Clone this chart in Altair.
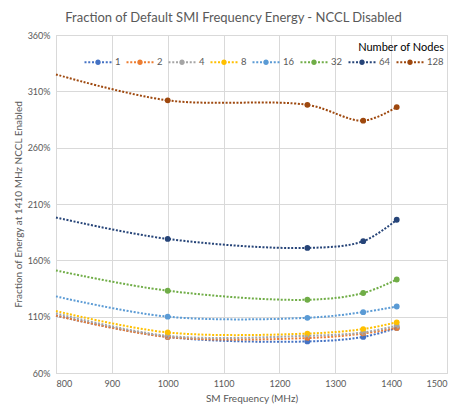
import altair as alt
import pandas as pd

freqs = [800, 1000, 1250, 1350, 1410]
nodes = ["1", "2", "4", "8", "16", "32", "64", "128"]
n1 = [1.11, 0.92, 0.88, 0.92, 1.00]
n2 = [1.11, 0.92, 0.91, 0.95, 1.00]
n4 = [1.13, 0.93, 0.93, 0.96, 1.02]
n8 = [1.15, 0.96, 0.95, 0.99, 1.05]
n16 = [1.28, 1.10, 1.09, 1.14, 1.19]
n32 = [1.51, 1.33, 1.25, 1.31, 1.43]
n64 = [1.98, 1.79, 1.71, 1.77, 1.96]
n128 = [3.25, 3.02, 2.98, 2.84, 2.96]
series = [n1, n2, n4, n8, n16, n32, n64, n128]
colors = ["#4472C4", "#ED7D31", "#A5A5A5", "#FFC000", "#5B9BD5", "#70AD47", "#264478", "#9E480E"]
y_ticks = [0.6, 1.1, 1.6, 2.1, 2.6, 3.1, 3.6]
x_ticks = [800, 900, 1000, 1100, 1200, 1300, 1400, 1500]

rows = []
for n, vals in zip(nodes, series):
    for i, (f, v) in enumerate(zip(freqs, vals)):
        rows.append({"freq": f, "val": v, "nodes": n, "marker": i > 0})
df = pd.DataFrame(rows)

# legend symbol: dotted line with a dot in the middle (unit square -1..1 -> 10px)
def sq(cx, h=0.2):
    return f"M{cx-h:.2f},{-h:.2f}h{2*h:.2f}v{2*h:.2f}h{-2*h:.2f}Z"
r = 0.55
parts = [sq(c) for c in (-2.5, -1.75, -1.0, 1.0, 1.75, 2.5)]
parts.append(f"M{-r},0a{r},{r} 0 1,0 {2*r},0a{r},{r} 0 1,0 {-2*r},0Z")
sym_path = " ".join(parts)

FONT = "Lato"
GRAY = "#595959"

legend = alt.Legend(
    title="Number of Nodes", orient="none", legendX=37, legendY=7,
    direction="horizontal", columns=8, symbolType=sym_path, symbolSize=100,
    symbolStrokeWidth=0, symbolOpacity=1, labelOffset=12, columnPadding=5,
    titleAnchor="end", titlePadding=4, titleFontSize=11, titleFontWeight="normal",
    titleColor="#000000", titleFont=FONT, labelFont=FONT, labelFontSize=9.5,
    labelColor=GRAY,
)
color = alt.Color("nodes:N", scale=alt.Scale(domain=nodes, range=colors), legend=legend)

x = alt.X("freq:Q", scale=alt.Scale(domain=[800, 1500], nice=False),
          axis=alt.Axis(values=x_ticks, title="SM Frequency (MHz)", format="d",
                        labelPadding=6, titlePadding=5))
y = alt.Y("val:Q", scale=alt.Scale(domain=[0.6, 3.6], nice=False, zero=False),
          axis=alt.Axis(values=y_ticks, format=".0%",
                        title="Fraction of Energy at 1410 MHz  NCCL Enabled",
                        labelPadding=6, titlePadding=4))

lines = alt.Chart(df).mark_line(
    interpolate="catmull-rom", strokeDash=[2, 1.6], strokeWidth=2, strokeCap="butt"
).encode(x=x, y=y, color=color, detail="nodes:N")

points = alt.Chart(df).transform_filter("datum.marker").mark_point(
    filled=True, size=34, opacity=1
).encode(x=x, y=y, color=color)

chart = alt.layer(points, lines).properties(
    width=391, height=338,
    title=alt.TitleParams("Fraction of Default SMI Frequency Energy - NCCL Disabled",
                          fontSize=13, font=FONT, fontWeight="normal", color=GRAY,
                          offset=6, dx=-18),
    autosize=alt.AutoSizeParams(type="none"),
    padding={"left": 48, "top": 27, "right": 14, "bottom": 34},
    background="white",
).configure_axis(
    gridColor="#d9d9d9", domainColor="#d9d9d9", ticks=False,
    labelFont=FONT, titleFont=FONT, labelFontSize=9, titleFontSize=10,
    labelColor=GRAY, titleColor=GRAY, titleFontWeight="normal",
).configure_view(stroke="#d9d9d9")

chart.save("out.html", embed_options={"renderer": "svg", "actions": False})
